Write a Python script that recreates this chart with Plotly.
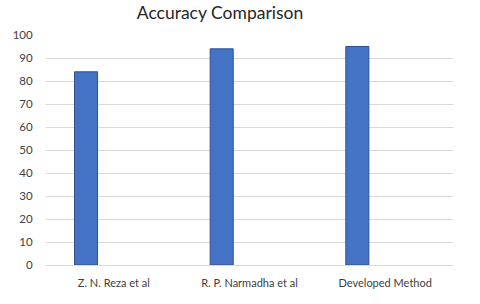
import plotly.graph_objects as go

categories = ["Z. N. Reza et al", "R. P. Narmadha et al", "Developed Method"]
accuracy = [84, 94, 95]
y_ticks = [0, 10, 20, 30, 40, 50, 60, 70, 80, 90, 100]

fig = go.Figure()
fig.add_trace(go.Bar(
    x=categories, y=accuracy,
    width=0.17, offset=-0.29,
    marker=dict(color="#4472C4", line=dict(color="#2F528F", width=1)),
    showlegend=False,
))

fig.update_layout(
    width=480, height=304,
    margin=dict(l=46, r=27, t=35, b=39),
    paper_bgcolor="white", plot_bgcolor="white",
    title=dict(text="Accuracy Comparison", x=220/480, xanchor="center",
               y=1 - 13/304, yanchor="middle",
               font=dict(family="Lato, Open Sans, sans-serif", size=17.5, color="#262626")),
    font=dict(family="Lato, Open Sans, sans-serif", size=11, color="#404040"),
    xaxis=dict(range=[-0.5, 2.5], showgrid=False, showline=True, linecolor="#d9d9d9",
               ticks="outside", ticklen=8, tickcolor="rgba(0,0,0,0)",
               tickfont=dict(size=11, color="#404040")),
    yaxis=dict(range=[0, 100], tickvals=y_ticks, showgrid=True, gridcolor="#d9d9d9",
               gridwidth=1, zeroline=False, showline=False,
               ticks="outside", ticklen=10, tickcolor="rgba(0,0,0,0)",
               tickfont=dict(size=11.5, color="#404040")),
)

fig.write_html("out.html", config={"displayModeBar": False},
               post_script="document.body.style.margin='0';")
